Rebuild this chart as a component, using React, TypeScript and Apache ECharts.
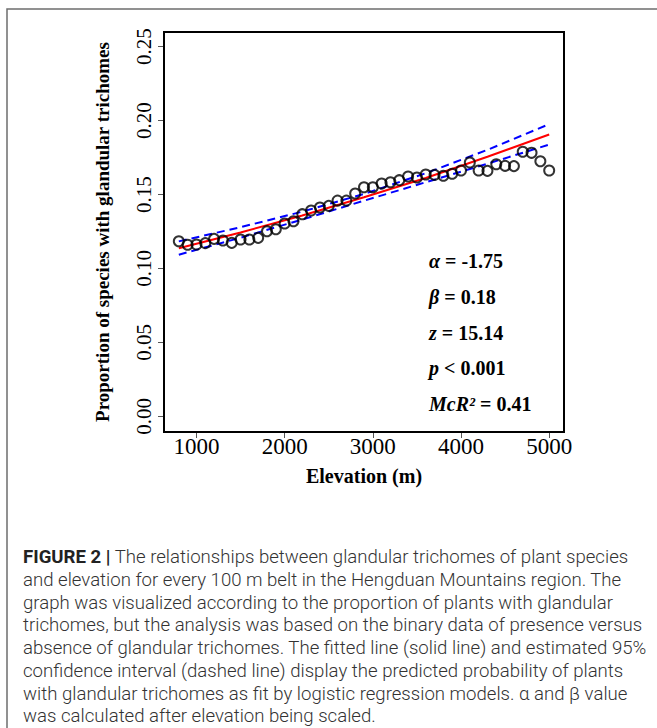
import React, { useEffect, useRef } from "react";
import * as echarts from "echarts";

const elevation = [800, 900, 1000, 1100, 1200, 1300, 1400, 1500, 1600, 1700, 1800, 1900, 2000, 2100, 2200, 2300, 2400, 2500, 2600, 2700, 2800, 2900, 3000, 3100, 3200, 3300, 3400, 3500, 3600, 3700, 3800, 3900, 4000, 4100, 4200, 4300, 4400, 4500, 4600, 4700, 4800, 4900, 5000];
const proportion = [0.1184, 0.1160, 0.1162, 0.1171, 0.1200, 0.1189, 0.1173, 0.1196, 0.1196, 0.1207, 0.1252, 0.1265, 0.1304, 0.1319, 0.1367, 0.1392, 0.1412, 0.1423, 0.1459, 0.1459, 0.1507, 0.1549, 0.1549, 0.1574, 0.1583, 0.1597, 0.1622, 0.1615, 0.1635, 0.1633, 0.1627, 0.1640, 0.1662, 0.1717, 0.1662, 0.1660, 0.1705, 0.1694, 0.1692, 0.1789, 0.1782, 0.1725, 0.1662];

const fitElevation = [800, 1500, 2200, 2900, 3600, 4300, 5000];
const fitted = [0.1137, 0.1243, 0.1358, 0.1481, 0.1612, 0.1755, 0.1906];
const upperCI = [0.1183, 0.1279, 0.1384, 0.1504, 0.1644, 0.1802, 0.1976];
const lowerCI = [0.1093, 0.1208, 0.1331, 0.1458, 0.1583, 0.1708, 0.1838];

const xTicks = [1000, 2000, 3000, 4000, 5000];
const yTicks = [0, 0.05, 0.1, 0.15, 0.2, 0.25];

const statLines = [
  "{i|α} = -1.75",
  "{i|β} = 0.18",
  "{i|z} = 15.14",
  "{i|p} < 0.001",
  "{i|McR²} = 0.41",
];

const captionLines = [
  "{b|FIGURE 2 |} The relationships between glandular trichomes of plant species",
  "and elevation for every 100 m belt in the Hengduan Mountains region. The",
  "graph was visualized according to the proportion of plants with glandular",
  "trichomes, but the analysis was based on the binary data of presence versus",
  "absence of glandular trichomes. The fitted line (solid line) and estimated 95%",
  "confidence interval (dashed line) display the predicted probability of plants",
  "with glandular trichomes as fit by logistic regression models. α and β value",
  "was calculated after elevation being scaled.",
];

const SERIF = "'Liberation Serif', 'Times New Roman', serif";
const SANS = "Roboto, 'Liberation Sans', Arial, sans-serif";

export default function App() {
  const ref = useRef<HTMLDivElement>(null);
  useEffect(() => {
    if (!ref.current) return;
    const chart = echarts.init(ref.current, null, { renderer: "svg" });
    const pts = elevation.map((e, i) => [e, proportion[i]]);
    const fitPts = fitElevation.map((e, i) => [e, fitted[i]]);
    const upPts = fitElevation.map((e, i) => [e, upperCI[i]]);
    const loPts = fitElevation.map((e, i) => [e, lowerCI[i]]);

    const statTexts = statLines.map((t, i) => ({
      type: "text",
      left: 429,
      top: 251 + i * 35.8,
      style: {
        text: t,
        fontFamily: SERIF,
        fontSize: 20,
        fontWeight: "bold",
        fill: "#000",
        rich: {
          i: { fontFamily: SERIF, fontSize: 20, fontWeight: "bold", fontStyle: "italic", fill: "#000" },
        },
      },
    }));

    chart.setOption({
      animation: false,
      backgroundColor: "#fff",
      grid: { left: 164, top: 32, right: 93, bottom: 296 },
      xAxis: {
        type: "value",
        min: 632,
        max: 5168,
        splitLine: { show: false },
        axisLine: { show: false, onZero: false },
        axisTick: { show: true, length: 6, inside: false, customValues: xTicks, lineStyle: { color: "#555", width: 1 } },
        axisLabel: { customValues: xTicks, fontFamily: SERIF, fontSize: 23, color: "#000", margin: 3, formatter: (v: number) => String(v) },
        name: "Elevation (m)",
        nameLocation: "middle",
        nameGap: 34,
        nameTextStyle: { fontFamily: SERIF, fontSize: 20, fontWeight: "bold", color: "#000" },
      },
      yAxis: {
        type: "value",
        min: -0.0106,
        max: 0.2599,
        splitLine: { show: false },
        axisLine: { show: false, onZero: false },
        axisTick: { show: true, length: 6, inside: false, customValues: yTicks, lineStyle: { color: "#555", width: 1 } },
        axisLabel: {
          customValues: yTicks,
          rotate: 90,
          fontFamily: SERIF,
          fontSize: 21,
          color: "#000",
          margin: 10,
          formatter: (v: number) => v.toFixed(2),
        },
        name: "Proportion of species with glandular trichomes",
        nameLocation: "middle",
        nameGap: 52,
        nameTextStyle: { fontFamily: SERIF, fontSize: 19, fontWeight: "bold", color: "#000" },
      },
      series: [
        {
          type: "line",
          data: upPts,
          showSymbol: false,
          lineStyle: { color: "#0000ff", width: 2, type: [8, 5] },
          z: 2,
        },
        {
          type: "line",
          data: loPts,
          showSymbol: false,
          lineStyle: { color: "#0000ff", width: 2, type: [8, 5] },
          z: 2,
        },
        {
          type: "line",
          data: fitPts,
          showSymbol: false,
          lineStyle: { color: "#ff0000", width: 2 },
          z: 3,
        },
        {
          type: "scatter",
          data: pts,
          symbol: "circle",
          symbolSize: 10,
          itemStyle: { color: "transparent", borderColor: "#000", borderWidth: 2 },
          z: 4,
        },
      ],
      graphic: [
        {
          type: "rect",
          shape: { x: 7, y: 9, width: 720, height: 800 },
          style: { fill: "none", stroke: "#6e6e6e", lineWidth: 1.5 },
          silent: true,
        },
        {
          type: "rect",
          shape: { x: 164, y: 32, width: 400, height: 400 },
          style: { fill: "none", stroke: "#000", lineWidth: 2 },
          silent: true,
          z: 10,
        },
        ...statTexts,
        {
          type: "text",
          left: 23,
          top: 546,
          style: {
            text: captionLines.join("\n"),
            fontFamily: SANS,
            fontSize: 18.6,
            fontWeight: 300,
            lineHeight: 22.7,
            fill: "#333",
            rich: {
              b: { fontFamily: SANS, fontSize: 18.6, fontWeight: "bold", fill: "#222", lineHeight: 22.7 },
            },
          },
        },
      ],
    });
    return () => chart.dispose();
  }, []);
  return <div ref={ref} style={{ position: "absolute", left: 0, top: 0, width: 657, height: 728 }} />;
}
